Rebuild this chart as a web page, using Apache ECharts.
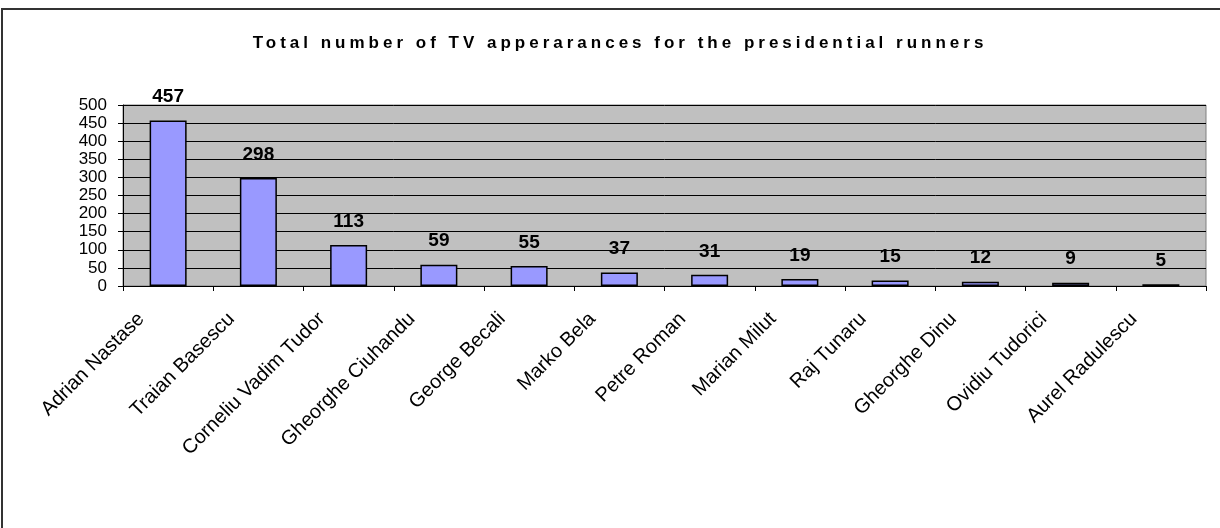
<!DOCTYPE html>
<html>
<head>
<meta charset="utf-8">
<title>Total number of TV apperarances for the presidential runners</title>
<script src="https://cdn.jsdelivr.net/npm/echarts@6/dist/echarts.min.js"></script>
<style>
  html, body { margin: 0; padding: 0; background: #fff; }
  #wrap { position: relative; width: 1220px; height: 528px; overflow: hidden; }
  #frame {
    position: absolute; left: 1px; top: 8px; width: 1240px; height: 560px;
    border: 2px solid #333; box-sizing: border-box; pointer-events: none;
  }
  #heading {
    position: absolute; left: 0; top: 33px; width: 1240px; text-align: center;
    font-family: "Liberation Sans", Arial, sans-serif; font-weight: bold;
    font-size: 17px; letter-spacing: 4px; color: #000; white-space: nowrap;
  }
  #chart { position: absolute; left: 0; top: 0; width: 1220px; height: 528px; }
</style>
</head>
<body>
<div id="wrap">
  <div id="chart"></div>
  <div id="frame"></div>
  <div id="heading">Total number of TV apperarances for the presidential runners</div>
</div>
<script>
// Candidates and their TV appearance counts
const candidates = [
  'Adrian Nastase', 'Traian Basescu', 'Corneliu Vadim Tudor', 'Gheorghe Ciuhandu',
  'George Becali', 'Marko Bela', 'Petre Roman', 'Marian Milut',
  'Raj Tunaru', 'Gheorghe Dinu', 'Ovidiu Tudorici', 'Aurel Radulescu'
];
const appearances = [457, 298, 113, 59, 55, 37, 31, 19, 15, 12, 9, 5];

// Value axis range
const yMin = 0;
const yMax = 500;
const yStep = 50;

const font = '"Liberation Sans", Arial, sans-serif';

const chart = echarts.init(document.getElementById('chart'), null, { renderer: 'canvas' });
chart.setOption({
  animation: false,
  backgroundColor: '#ffffff',
  grid: {
    left: 123, right: 14, top: 105, bottom: 242,
    show: true, backgroundColor: '#C0C0C0', borderColor: '#808080', borderWidth: 1
  },
  xAxis: {
    type: 'category',
    data: candidates,
    axisLine: { lineStyle: { color: '#000', width: 1 } },
    axisTick: { show: true, length: 5, lineStyle: { color: '#000' } },
    axisLabel: {
      rotate: 45, interval: 0, margin: 3,
      padding: [0, 38, 0, 0],
      fontFamily: font, fontSize: 20, color: '#000'
    },
    splitLine: { show: false }
  },
  yAxis: {
    type: 'value',
    min: yMin, max: yMax, interval: yStep,
    axisLine: { show: true, lineStyle: { color: '#000', width: 1 } },
    axisTick: { show: true, length: 5, lineStyle: { color: '#000' } },
    axisLabel: { fontFamily: font, fontSize: 17, color: '#000', margin: 16 },
    splitLine: { show: true, lineStyle: { color: '#000', width: 1 } }
  },
  series: [{
    type: 'bar',
    data: appearances,
    barCategoryGap: '59%',
    itemStyle: { color: '#9999FF', borderColor: '#000', borderWidth: 1.5 },
    label: {
      show: true, position: 'top', distance: 14,
      fontFamily: font, fontSize: 19, fontWeight: 'bold', color: '#000'
    }
  }]
});
</script>
</body>
</html>
